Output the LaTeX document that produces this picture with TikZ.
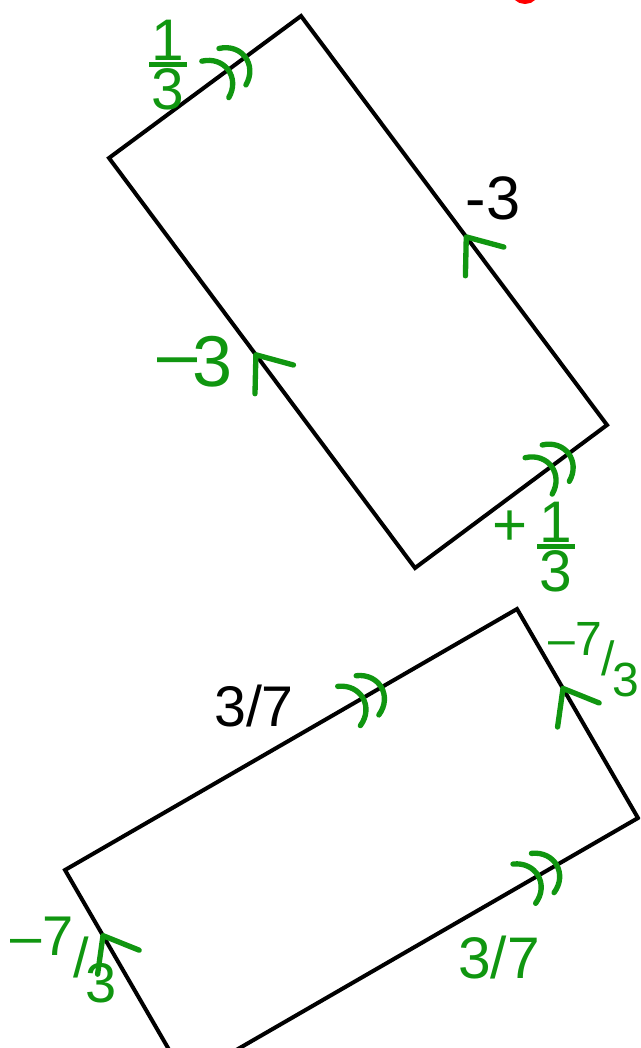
\documentclass[tikz,border=0pt]{standalone}
\usepackage{fontspec}
\setmainfont{Liberation Sans}
\usetikzlibrary{decorations.markings}
\definecolor{pen}{RGB}{16,150,16}

\newcommand\stackfrac[2]{\vbox{\halign{\hfil##\hfil\cr\kern2pt#1\kern2pt\cr\noalign{\kern1pt\hrule height 3.5pt\kern1pt}#2\cr}}}
\newcommand\slantfrac[2]{#1\raisebox{-.4em}{/}\kern-.05em\raisebox{-.85em}{#2}}

\tikzset{
  side/.style={line width=3pt, line join=miter},
  ink/.style={draw=pen, line width=4pt, line cap=round, line join=round},
  inktext/.style={text=pen, inner sep=0pt},
  blacktext/.style={inner sep=0pt},
  onearrow/.style={decorate, decoration={markings, mark=at position #1 with {
      \draw[ink] (-23pt,18pt) -- (0pt,0pt) -- (-23pt,-18pt);}}},
  twoarrow/.style={decorate, decoration={markings, mark=at position #1 with {
      \draw[ink] (-12pt,17pt) .. controls (4pt,10pt) and (4pt,-10pt) .. (-12pt,-17pt);
      \draw[ink] (-28pt,17pt) .. controls (-12pt,10pt) and (-12pt,-10pt) .. (-28pt,-17pt);}}},
}

\begin{document}
\begin{tikzpicture}[x=0.75pt,y=-0.75pt, line cap=round]
  \useasboundingbox (0,0) rectangle (640,1048);
  \clip (0,0) rectangle (640,1048);

  % upper rectangle
  \coordinate (ut) at (301,16);
  \coordinate (ur) at (607,425);
  \coordinate (ub) at (415,568);
  \coordinate (ul) at (109,158);
  \draw[side] (ut) -- (ur) -- (ub) -- (ul) -- cycle;
  \path[twoarrow=0.71] (ul) -- (ut);
  \path[onearrow=0.46] (ur) -- (ut);
  \path[onearrow=0.52] (ub) -- (ul);
  \path[twoarrow=0.8] (ub) -- (ur);

  % lower rectangle
  \coordinate (lt) at (517,609);
  \coordinate (lr) at (638,818);
  \coordinate (lb) at (186,1079);
  \coordinate (ll) at (65,870);
  \draw[side] (lt) -- (lr) -- (lb) -- (ll) -- cycle;
  \path[twoarrow=0.7] (ll) -- (lt);
  \path[onearrow=0.62] (lr) -- (lt);
  \path[onearrow=0.686] (lb) -- (ll);
  \path[twoarrow=0.82] (lb) -- (lr);

  % labels
  \node[blacktext, font=\fontsize{46}{50}\selectfont] (rval) at (493,198) {-3};
  \node[blacktext, font=\fontsize{43}{46}\selectfont] (tval) at (254,706) {3/7};
  \node[inktext, font=\fontsize{44}{44}\selectfont] (tlw) at (168,65) {\stackfrac{1}{3}};
  \node[inktext, font=\fontsize{54}{54}\selectfont] (lw) at (195,362) {\raisebox{.12em}{--}\kern-.08em3};
  \node[inktext, font=\fontsize{45}{45}\selectfont] (bplus) at (510,528) {+};
  \node[inktext, font=\fontsize{44}{44}\selectfont] (bw) at (556,547) {\stackfrac{1}{3}};
  \node[inktext, font=\fontsize{36}{36}\selectfont] (trw) at (594,660) {--\slantfrac{7}{3}};
  \node[inktext, font=\fontsize{42}{42}\selectfont] (blw) at (64,960) {--\slantfrac{7}{3}};
  \node[inktext, font=\fontsize{44}{44}\selectfont] (brw) at (499,958) {3/7};

  % red mark at the top edge
  \draw[red, line width=3pt] (525,-11) circle[radius=13];
\end{tikzpicture}
\end{document}
